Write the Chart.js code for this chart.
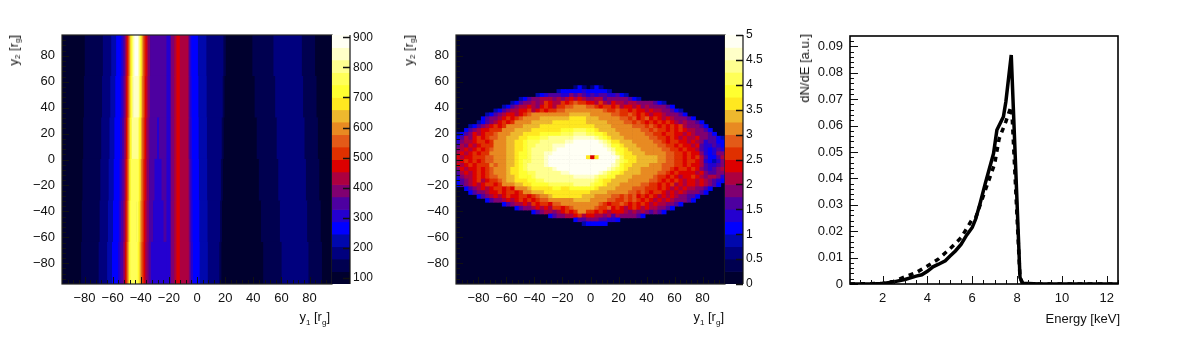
<!DOCTYPE html>
<html>
<head>
<meta charset="utf-8">
<title>Chart</title>
<script src="https://cdn.jsdelivr.net/npm/chart.js@4"></script>
<style>
  html, body { margin: 0; padding: 0; background: #fff; }
  body { position: relative; width: 1181px; height: 356px; overflow: hidden; font-family: "Liberation Sans", sans-serif; color: #111; }
  canvas { position: absolute; top: 0; filter: blur(0.4px); }
  .title { position: absolute; font-size: 13px; line-height: 15px; white-space: nowrap; }
  .title sub { font-size: 8px; line-height: 0; vertical-align: -4px; }
  .vert { writing-mode: vertical-rl; transform: rotate(180deg); }
</style>
</head>
<body>
<canvas id="stripes" width="352" height="356" style="left:0"></canvas>
<canvas id="stripes-bar" width="60" height="356" style="left:332px"></canvas>
<canvas id="disk" width="345" height="356" style="left:400px"></canvas>
<canvas id="disk-bar" width="60" height="356" style="left:725px"></canvas>
<canvas id="spectrum" width="350" height="356" style="left:790px"></canvas>

<div class="title vert" style="left:6px;top:35px">y<sub>2</sub> [r<sub>g</sub>]</div>
<div class="title" style="right:851px;top:309px">y<sub>1</sub> [r<sub>g</sub>]</div>
<div class="title vert" style="left:401px;top:35px">y<sub>2</sub> [r<sub>g</sub>]</div>
<div class="title" style="right:457px;top:309px">y<sub>1</sub> [r<sub>g</sub>]</div>
<div class="title vert" style="left:797px;top:34px">dN/dE [a.u.]</div>
<div class="title" style="right:61px;top:311px">Energy [keV]</div>

<script>
// ---- data ----

// 20 colour levels shared by the heat maps and their colour bars
const palette = ['#00002e', '#000050', '#00007e', '#0008ad', '#0000ff', '#2400d0', '#4d00a0', '#800070', '#ac0040', '#dd0000',
                 '#e03000', '#e35a18', '#e88a22', '#eeb82e', '#ffe820', '#ffff30', '#ffff58', '#ffff90', '#ffffc8', '#fffff4'];

const posTicks = [-80, -60, -40, -20, 0, 20, 40, 60, 80];

// left panel: colour bands crossed from left to right, and where each starts on y1, per y2 row
const stripeLevels = [0,1,2,3,4,5,6,7,8,9,10,11,12,13,14,15,16,17,18,19,18,17,16,15,14,13,12,11,10,9,8,7,6,5,6,5,7,8,9,8,7,6,5,4,3,2,1,0,1,2,1,0];
const stripeRows = [80, 48, 16, -16, -48, -80];
const stripeEdges = [
  [-96,-79.6,-66.7,-60.8,-57.3,-53.6,-52.2,-51.1,-50.4,-49.7,-49.1,-48.5,-48,-47.5,-47.1,-46.6,-46.1,-45.5,-44.9,-44.1,-41.7,-41.1,-40.5,-40.1,-39.6,-39.1,-38.6,-38.1,-37.3,-36.5,-35.5,-34.5,-33.1,-27,-27,-21.5,-18.5,-16,-14.4,-12,-6.1,-5.5,-4.8,-3.8,0.9,6.9,19,20.7,39.6,54.6,74.8,84.2,96],
  [-96,-80.2,-67.3,-61.4,-57.9,-54,-52.6,-51.4,-50.6,-50,-49.4,-48.8,-48.2,-47.7,-47.3,-46.8,-46.3,-45.8,-45.1,-42,-42,-41.3,-40.8,-40.3,-39.9,-39.3,-38.9,-38.4,-37.5,-36.7,-35.7,-34.8,-33.3,-27,-27,-21.5,-18.5,-16,-14.4,-12,-6.1,-5.4,-4.7,-3.6,1.2,7.1,18.5,19.8,41.2,55.8,75.7,85.2,96],
  [-96,-80.7,-67.9,-62,-58.5,-54.5,-53,-51.7,-50.8,-50.2,-49.6,-49,-48.5,-48,-47.5,-47.1,-46.6,-46,-42.6,-42.6,-42.6,-42.6,-41.5,-41,-40.5,-39.6,-39.2,-38.7,-37.8,-37,-36,-35,-33.6,-28.2,-26.8,-21.5,-18.5,-16,-14.4,-12,-6.1,-5.4,-4.6,-3.4,1.4,7.3,17.8,19.2,42.7,56.9,76.7,86.2,96],
  [-96,-81.2,-68.5,-62.6,-59,-54.9,-53.4,-51.9,-51,-50.4,-49.8,-49.2,-48.7,-48.2,-47.8,-47.3,-46.8,-42.8,-42.8,-42.8,-42.8,-42.8,-42.8,-41.3,-40.8,-40,-39.5,-39,-38.1,-37.2,-36.2,-35.2,-33.8,-30,-25,-21.5,-18.5,-16,-14.4,-12,-5.9,-5.2,-4.4,-3.1,1.6,7.5,17.2,18.6,44.2,58,77.7,87.2,96],
  [-96,-81.7,-69,-63.1,-59.5,-55.4,-53.9,-52.2,-51.2,-50.6,-50,-49.4,-48.9,-48.4,-48,-47.5,-47,-43,-43,-43,-43,-43,-43,-41.6,-41,-40.3,-39.8,-39.2,-38.3,-37.5,-36.5,-35.5,-34,-31,-23.6,-21.5,-18.5,-16,-14.4,-12,-5.7,-5,-4.2,-2.9,1.9,7.7,16.7,18,45.7,59.2,78.6,88.2,96],
  [-96,-82.2,-69.7,-63.7,-60.2,-55.8,-54.3,-52.4,-51.4,-50.9,-50.2,-49.6,-49.1,-48.6,-48.2,-47.7,-47.2,-43.5,-43.5,-43.5,-43.5,-43.5,-43.5,-42,-41.3,-40.6,-40,-39.4,-38.6,-37.7,-36.7,-35.7,-34.2,-32.5,-21.5,-21.5,-18.5,-16,-14.4,-12,-5.6,-4.9,-4,-2.6,2.1,7.9,16.1,17.6,47.3,60.4,79.5,89.1,96]
];
const stripeBarEdges = [79,120,162,203,245,286,327,369,410,452,493,535,576,618,659,700,742,783,825,866,908];
const stripeBarTicks = [100, 200, 300, 400, 500, 600, 700, 800, 900];

// middle panel: one base-20 colour level per cell, groups of 8 cells, top row first
const diskCols = [-94.5,-91.5,-88.5,-85.5,-82.5,-79.5,-76.5,-73.5,-70.5,-67.5,-64.5,-61.5,-58.5,-55.5,-52.5,-49.5,
                  -46.5,-43.5,-40.5,-37.5,-34.5,-31.5,-28.5,-25.5,-22.5,-19.5,-16.5,-13.5,-10.5,-7.5,-4.5,-1.5,
                  1.5,4.5,7.5,10.5,13.5,16.5,19.5,22.5,25.5,28.5,31.5,34.5,37.5,40.5,43.5,46.5,
                  49.5,52.5,55.5,58.5,61.5,64.5,67.5,70.5,73.5,76.5,79.5,82.5,85.5,88.5,91.5,94.5];
const diskRows = [55.5,52.5,49.5,46.5,43.5,40.5,37.5,34.5,31.5,28.5,25.5,22.5,19.5,16.5,13.5,10.5,7.5,4.5,1.5,
                  -1.5,-4.5,-7.5,-10.5,-13.5,-16.5,-19.5,-22.5,-25.5,-28.5,-31.5,-34.5,-37.5,-40.5,-43.5,-46.5,-49.5];
const diskLevels = [
  '00000000 00000000 00000000 00002420 24200000 00000000 00000000 00000000',
  '00000000 00000000 00000000 34444454 44443000 00000000 00000000 00000000',
  '00000000 00000000 00034566 65576765 65665564 30000000 00000000 00000000',
  '00000000 00000003 46778887 87898987 78867777 76430000 00000000 00000000',
  '00000000 00000346 77878a98 8a9abaa9 98a87988 78877776 43000000 00000000',
  '00000000 00034678 89879a98 aabbcccb ba9aa9a8 99897877 77640000 00000000',
  '00000000 03467889 9a89a9aa bbcccccc cccbaaba a9a99898 87764300 00000000',
  '00000003 46789989 abcccccc cccddddd cccccbba aba9a989 98777640 00000000',
  '00000046 7789a9ab ccccdddd dddeeeed ddcccccb bab9ab9a 98987776 40000000',
  '00000346 789a9acc ccddddde eeeeeeed ddddcccc bbaba9a9 a9a98787 76400000',
  '00034678 9a9acccc ddddeeee eeeeeeee eddddccc ccbbbaba 9a9a9a87 77640000',
  '00467899 aaacccdd ddeeeeee efffgggf feddddcc ccccbbab aa9a9a98 87764000',
  '3467989a abcccddd eeeeffff fggghhhg gffedddc cccccbba a9aa9989 87776400',
  '46879a9a bbccddde efffgghh hhhhiiii ihgfeddd ccccccbb aa9a9898 89776643',
  '57889aa9 acccddee fggghhhh hhiijjjj jjihgeed ddcccccb ba9aa998 98756644',
  '687989aa acccddee fgghhhhi iijjjjjj jjjihffe dddccccc bbaa9a99 89655654',
  '78989a9a bcccddee fghhhhhi jjjjjjjj jjjjihff edddcccc cbbaa9a9 98654565',
  '8989a9aa ccccddef fghhhiij jjjjjjjj jjjjjigf eedddccc ccbbaa9a 99754577',
  '9899aaab bcccddef fghhhijj jjjjjjje 9ejjjjig eeeddddd ccbbaa9a 9a864468',
  '89a9a9ab bcccddef gghhhijj jjjjjjjj jjjjjjhg feeddddd ccbbaa9a a9854357',
  '989a9aaa cbccddef ghhhhijj jjjjjjjj jjjjjihf eeddddcc cbbbaa9a 99865567',
  '79899a9a bcccdeef ghhhhhhi jjjjjjjj jjjjihgf edddcccc cbba9aa9 a9765678',
  '68989a9a bcccdeef fgghhhhh hiijjjjj jjihgffe ddddcccc bba9a999 98976677',
  '57889a9a bbccddef ffghhhhh hhhhiiii ihggffdd ddcccccb aa9a9899 a9878875',
  '46789a89 aabcddee effgghhh hhhhhhhh hgfeeddd dcccccbb a9a9a989 98987654',
  '4678989a a9acccdd eeffffgg gggghhhh gffedddc ccccbbaa 9a9a8989 98987640',
  '00467898 9aa9a9cc cdeeeeef feefffff feddddcc ccbbbaaa 9a989898 87764000',
  '00046778 99a9aa9a ccdddeee eeeeeeee ddddcccc cbbaba9a a9898987 77640000',
  '00000467 8989a99a a9abccde eeeeeedd dccccbba bab9a9a9 89898776 64000000',
  '00000004 6778989a 9a9abbcc ccccdddd ccccbbaa baba9a98 98987776 40000000',
  '00000000 00046788 98a9aa9b bccccccc ccba9aab a9a9a989 88776400 00000000',
  '00000000 00000046 7789898a a9abcccc cbaab9a9 89a98988 77640000 00000000',
  '00000000 00000000 00467887 89a9acca a9a98999 87878767 64000000 00000000',
  '00000000 00000000 00000046 77889a89 98878687 77764000 00000000 00000000',
  '00000000 00000000 00000000 00004667 77665540 00000000 00000000 00000000',
  '00000000 00000000 00000000 00000034 44440000 00000000 00000000 00000000'
];
const diskBarEdges = [0,0.25,0.5,0.75,1,1.25,1.5,1.75,2,2.25,2.5,2.75,3,3.25,3.5,3.75,4,4.25,4.5,4.75,5];
const diskBarTicks = [0, 0.5, 1, 1.5, 2, 2.5, 3, 3.5, 4, 4.5, 5];

// right panel: two spectra
const energySolid = [0.55,1.5,2,2.5,3,3.5,3.75,4,4.25,4.5,4.8,5,5.25,5.5,5.75,6,6.15,6.35,6.58,6.95,7.1,7.39,7.5,7.74,8.13,8.25,9,12.5];
const dndeSolid = [0,0,0.0002,0.0008,0.0017,0.003,0.0035,0.0048,0.0065,0.0075,0.0088,0.0105,0.0125,0.015,0.0185,0.0214,0.0245,0.0305,0.038,0.0494,0.0583,0.0633,0.069,0.0867,0.0025,0.0003,0,0];
const energyDashed = [0.55,2,2.5,3,3.5,4,4.5,5,5.5,6,6.15,6.5,7,7.2,7.5,7.7,7.76,8.13,8.25,12.5];
const dndeDashed = [0,0.0002,0.001,0.0027,0.0043,0.0068,0.0095,0.0133,0.0175,0.0245,0.025,0.0335,0.0455,0.055,0.0615,0.0665,0.067,0.0025,0,0];
const energyTicks = [2, 4, 6, 8, 10, 12];
const dndeTicks = [0, 0.01, 0.02, 0.03, 0.04, 0.05, 0.06, 0.07, 0.08, 0.09];

// ---- helpers ----

const FONT = { family: '"Liberation Sans", sans-serif', size: 13 };
const BAR_FONT = { family: '"Liberation Sans", sans-serif', size: 12 };
const INK = '#111';

const stepList = (from, to, step) => {
    const out = [];
    for (let v = from; v <= to + 1e-9; v += step) out.push(Math.round(v * 1000) / 1000);
    return out;
};

const withMinus = v => String(v).replace('-', '\u2212');

// fill, frame and inward ROOT style tick marks
const panelDressing = {
    id: 'panelDressing',
    beforeDatasetsDraw(chart, args, opts) {
        if (!opts.fill) return;
        const a = chart.chartArea;
        chart.ctx.fillStyle = opts.fill;
        chart.ctx.fillRect(a.left, a.top, a.right - a.left, a.bottom - a.top);
    },
    afterDraw(chart, args, opts) {
        const { ctx, chartArea: a } = chart;
        ctx.save();
        ctx.strokeStyle = INK;
        (opts.marks || []).forEach(m => {
            const scale = chart.scales[m.scale];
            ctx.lineWidth = m.width || 1;
            ctx.beginPath();
            m.values.forEach(v => {
                const p = Math.round(scale.getPixelForValue(v)) + 0.5;
                if (m.edge === 'bottom') { ctx.moveTo(p, a.bottom); ctx.lineTo(p, a.bottom - m.len); }
                if (m.edge === 'left') { ctx.moveTo(a.left, p); ctx.lineTo(a.left + m.len, p); }
                if (m.edge === 'right') { ctx.moveTo(a.right, p); ctx.lineTo(a.right - m.len, p); }
            });
            ctx.stroke();
        });
        if (opts.frame) {
            ctx.strokeStyle = opts.frame;
            ctx.lineWidth = opts.frameWidth || 1;
            ctx.strokeRect(a.left, a.top, a.right - a.left, a.bottom - a.top);
        }
        if (opts.rightLine) {
            ctx.strokeStyle = opts.rightLine;
            ctx.lineWidth = 1.2;
            ctx.beginPath();
            ctx.moveTo(a.right, a.top);
            ctx.lineTo(a.right, a.bottom);
            ctx.stroke();
        }
        ctx.restore();
    }
};
Chart.register(panelDressing);

const levelColor = ctx => palette[ctx.raw.level];

function fixedAxis(values, extra) {
    return Object.assign({
        type: 'linear',
        offset: false,
        grid: { display: false, drawTicks: false },
        border: { display: false },
        afterBuildTicks(scale) { scale.ticks = values.map(v => ({ value: v })); },
        ticks: { font: FONT, color: INK, padding: 7, autoSkip: false, maxRotation: 0, callback: withMinus }
    }, extra);
}

function heatOptions(size, marks, fill, indexAxis) {
    return {
        indexAxis: indexAxis,
        responsive: false,
        animation: false,
        events: [],
        layout: { padding: { top: 35, right: size.right, bottom: 0, left: 0 } },
        plugins: {
            legend: { display: false },
            tooltip: { enabled: false },
            panelDressing: { fill: fill, frame: '#222', frameWidth: 1.2, marks: marks }
        },
        scales: {
            x: fixedAxis(posTicks, { min: -96, max: 96, afterFit(s) { s.height = 72; } }),
            y: fixedAxis(posTicks, { min: -96, max: 96, afterFit(s) { s.width = size.left; } })
        }
    };
}

const posMarks = [
    { scale: 'x', edge: 'bottom', values: posTicks, len: 7 },
    { scale: 'x', edge: 'bottom', values: stepList(-92, 92, 4), len: 4 },
    { scale: 'y', edge: 'left', values: posTicks, len: 7 },
    { scale: 'y', edge: 'left', values: stepList(-92, 92, 4), len: 4 }
];

function colorBar(id, edges, ticks, fmt) {
    const cells = palette.map((c, i) => ({ x: 0.5, y: [edges[i], edges[i + 1]], level: i }));
    new Chart(document.getElementById(id), {
        type: 'bar',
        data: { datasets: [{ data: cells, backgroundColor: levelColor, barPercentage: 1, categoryPercentage: 1 }] },
        options: {
            responsive: false,
            animation: false,
            events: [],
            layout: { padding: { top: 35, bottom: 72 } },
            plugins: {
                legend: { display: false },
                tooltip: { enabled: false },
                panelDressing: { rightLine: INK, marks: [{ scale: 'y', edge: 'right', values: ticks, len: 7, width: 1.5 }] }
            },
            scales: {
                x: { type: 'linear', min: 0, max: 1, offset: false, display: false },
                y: fixedAxis(ticks, {
                    position: 'right',
                    min: edges[0],
                    max: edges[edges.length - 1],
                    afterFit(s) { s.width = 42; },
                    ticks: { font: BAR_FONT, color: INK, padding: 3, autoSkip: false, callback: fmt }
                })
            }
        }
    });
}

// ---- left panel ----

const stripeCells = [];
stripeEdges.forEach((edges, r) => {
    stripeLevels.forEach((level, i) => {
        if (edges[i + 1] > edges[i]) stripeCells.push({ y: stripeRows[r], x: [edges[i], edges[i + 1]], level: level });
    });
});

new Chart(document.getElementById('stripes'), {
    type: 'bar',
    data: { datasets: [{ data: stripeCells, backgroundColor: levelColor, barThickness: 42 }] },
    options: heatOptions({ left: 62, right: 20 }, posMarks, palette[0], 'y')
});
colorBar('stripes-bar', stripeBarEdges, stripeBarTicks, v => String(v));

// ---- middle panel ----

const diskCells = [];
diskLevels.forEach((row, r) => {
    row.replace(/ /g, '').split('').forEach((ch, c) => {
        const level = parseInt(ch, 20);
        if (level > 0) diskCells.push({ x: diskCols[c], y: [diskRows[r] - 1.5, diskRows[r] + 1.5], level: level });
    });
});

new Chart(document.getElementById('disk'), {
    type: 'bar',
    data: { datasets: [{ data: diskCells, backgroundColor: levelColor, barPercentage: 1, categoryPercentage: 1 }] },
    options: heatOptions({ left: 56, right: 20 }, posMarks, palette[0], 'x')
});
colorBar('disk-bar', diskBarEdges, diskBarTicks, v => String(v));

// ---- right panel ----

const toPoints = (xs, ys) => xs.map((x, i) => ({ x: x, y: ys[i] }));

new Chart(document.getElementById('spectrum'), {
    type: 'scatter',
    data: {
        datasets: [
            { data: toPoints(energyDashed, dndeDashed), showLine: true, borderColor: '#000', borderWidth: 3.5, borderDash: [5, 5], pointRadius: 0, tension: 0 },
            { data: toPoints(energySolid, dndeSolid), showLine: true, borderColor: '#000', borderWidth: 3.5, pointRadius: 0, tension: 0 }
        ]
    },
    options: {
        responsive: false,
        animation: false,
        events: [],
        layout: { padding: { top: 36, right: 22, bottom: 0, left: 0 } },
        plugins: {
            legend: { display: false },
            tooltip: { enabled: false },
            panelDressing: {
                frame: '#000',
                frameWidth: 1.6,
                marks: [
                    { scale: 'x', edge: 'bottom', values: energyTicks, len: 8 },
                    { scale: 'x', edge: 'bottom', values: stepList(1, 12.5, 0.5), len: 4 },
                    { scale: 'y', edge: 'left', values: dndeTicks, len: 8 },
                    { scale: 'y', edge: 'left', values: stepList(0.002, 0.092, 0.002), len: 4 }
                ]
            }
        },
        scales: {
            x: fixedAxis(energyTicks, { min: 0.55, max: 12.5, afterFit(s) { s.height = 72; } }),
            y: fixedAxis(dndeTicks, { min: 0, max: 0.0939, afterFit(s) { s.width = 60; } })
        }
    }
});
</script>
</body>
</html>
